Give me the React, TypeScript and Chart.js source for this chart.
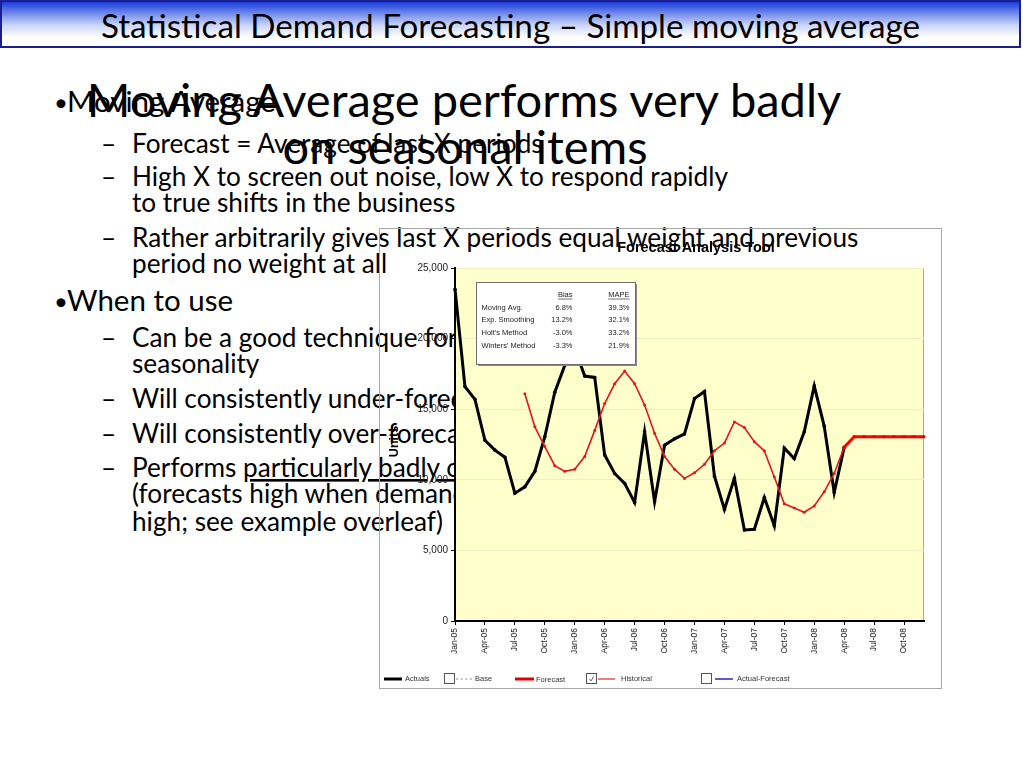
import React, { useEffect, useRef } from "react";
import { Chart, registerables } from "chart.js";

Chart.register(...registerables);

// ---------- data ----------
const yearSuffixes = ["05", "06", "07", "08"];
const monthNames = ["Jan", "Feb", "Mar", "Apr", "May", "Jun", "Jul", "Aug", "Sep", "Oct", "Nov", "Dec"];
const monthLabels = yearSuffixes.flatMap((y) => monthNames.map((m) => `${m}-${y}`));

// Actuals Jan-05 .. Apr-08
const actualsValues = [
  23500, 16600, 15700, 12800, 12100, 11600, 9050, 9500, 10600, 13050, 16200, 18100,
  19300, 17350, 17250, 11750, 10450, 9750, 8400, 13400, 8450, 12450, 12900, 13250,
  15750, 16250, 10250, 7900, 10100, 6450, 6500, 8750, 6750, 12250, 11500, 13400,
  16650, 13800, 9100, 12300,
];
// Historical moving-average forecast Aug-05 .. Apr-08
const historicalStart = 7;
const historicalValues = [
  16100, 13750, 12350, 11000, 10600,
  10750, 11650, 13500, 15400, 16800, 17700, 16800, 15300, 13300, 11650, 10750, 10100,
  10500, 11100, 12050, 12600, 14100, 13700, 12700, 12050, 10200, 8300, 8000, 7700,
  8150, 9150, 10450, 12300,
];
// Future forecast Apr-08 .. Dec-08
const forecastStart = 39;
const forecastValues = [12300, 13050, 13050, 13050, 13050, 13050, 13050, 13050, 13050];

const yTickStep = 5000;
const yMax = 25000;

const methodNames = ["Moving Avg.", "Exp. Smoothing", "Holt's Method", "Winters' Method"];
const biasPct = [6.8, 13.2, -3.0, -3.3];
const mapePct = [39.3, 32.1, 33.2, 21.9];
const tableHeaders = ["Bias", "MAPE"];

const legendLabels = ["Actuals", "Base", "Forecast", "Historical", "Actual-Forecast"];
const chartTitle = "Forecast Analysis Tool";
const yAxisTitle = "Units";

const slideTitle = "Statistical Demand Forecasting – Simple moving average";
const overlayTitle = ["Moving Average performs very badly", "on seasonal items"];

type Line = { kind: "bullet" | "dash" | "cont"; text: string; y: number; u?: [string, string] };
const bodyLines: Line[] = [
  { kind: "bullet", text: "Moving Average", y: 112 },
  { kind: "dash", text: "Forecast = Average of last X periods", y: 153 },
  { kind: "dash", text: "High X to screen out noise, low X to respond rapidly", y: 186 },
  { kind: "cont", text: "to true shifts in the business", y: 212 },
  { kind: "dash", text: "Rather arbitrarily gives last X periods equal weight and previous", y: 247 },
  { kind: "cont", text: "period no weight at all", y: 273 },
  { kind: "bullet", text: "When to use", y: 311 },
  { kind: "dash", text: "Can be a good technique for items with no trend or", y: 347 },
  { kind: "cont", text: "seasonality", y: 373 },
  { kind: "dash", text: "Will consistently under-forecast an upward trend", y: 408 },
  { kind: "dash", text: "Will consistently over-forecast a downward trend", y: 443 },
  { kind: "dash", text: "", u: ["Performs ", "particularly badly on seasonal items"], y: 477 },
  { kind: "cont", text: "(forecasts high when demand is low, and low when demand is", y: 503 },
  { kind: "cont", text: "high; see example overleaf)", y: 531 },
];

const padTo = (start: number, vals: number[], total: number) => {
  const out: (number | null)[] = [];
  for (let i = 0; i < total; i++) {
    const k = i - start;
    out.push(k >= 0 && k < vals.length ? vals[k] : null);
  }
  return out;
};

const CHART_FONT = "'Liberation Sans', Arial, sans-serif";

function ForecastChart() {
  const ref = useRef<HTMLCanvasElement | null>(null);
  useEffect(() => {
    if (!ref.current) return;
    const n = monthLabels.length;

    const decorPlugin = {
      id: "decor",
      beforeDraw(chart: any) {
        const { ctx, chartArea: ca } = chart;
        ctx.save();
        ctx.fillStyle = "#ffffcc";
        ctx.fillRect(ca.left, ca.top, ca.right - ca.left, ca.bottom - ca.top);
        ctx.strokeStyle = "#a8a8a8";
        ctx.lineWidth = 1;
        ctx.strokeRect(ca.left + 0.5, ca.top + 0.5, ca.right - ca.left - 1, ca.bottom - ca.top);
        ctx.restore();
      },
      afterDatasetsDraw(chart: any) {
        const { ctx, chartArea: ca } = chart;
        const bx = Math.round(ca.left + 21) + 0.5;
        const by = Math.round(ca.top + 14) + 0.5;
        const bw = 159;
        const bh = 82;
        ctx.save();
        ctx.fillStyle = "#8a8a8a";
        ctx.fillRect(bx + 1.5, by + 1.5, bw, bh);
        ctx.fillStyle = "#ffffff";
        ctx.fillRect(bx, by, bw, bh);
        ctx.strokeStyle = "#6e6e6e";
        ctx.lineWidth = 1;
        ctx.strokeRect(bx, by, bw, bh);
        ctx.font = `7.5px ${CHART_FONT}`;
        ctx.fillStyle = "#222";
        ctx.textBaseline = "middle";
        const colRight = [bx + 96, bx + 153];
        tableHeaders.forEach((h, i) => {
          ctx.textAlign = "right";
          ctx.fillText(h, colRight[i], by + 12);
          const w = ctx.measureText(h).width;
          ctx.beginPath();
          ctx.strokeStyle = "#333";
          ctx.lineWidth = 0.7;
          ctx.moveTo(colRight[i] - w, by + 16.5);
          ctx.lineTo(colRight[i], by + 16.5);
          ctx.stroke();
        });
        methodNames.forEach((m, i) => {
          const y = by + 25 + i * 12.7;
          ctx.textAlign = "left";
          ctx.fillText(m, bx + 5, y);
          ctx.textAlign = "right";
          ctx.fillText(biasPct[i].toFixed(1) + "%", colRight[0], y);
          ctx.fillText(mapePct[i].toFixed(1) + "%", colRight[1], y);
        });
        ctx.restore();
      },
      afterDraw(chart: any) {
        const { ctx, chartArea: ca, width, height } = chart;
        ctx.save();
        ctx.strokeStyle = "#a6a6a6";
        ctx.lineWidth = 1;
        ctx.strokeRect(0.5, 0.5, width - 1, height - 1);
        ctx.fillStyle = "#000";
        ctx.font = `bold 14.5px ${CHART_FONT}`;
        ctx.textAlign = "center";
        ctx.textBaseline = "middle";
        ctx.fillText(chartTitle, 317, 20);
        ctx.save();
        ctx.translate(16, (ca.top + ca.bottom) / 2 - 3);
        ctx.rotate(-Math.PI / 2);
        ctx.font = `bold 12.5px ${CHART_FONT}`;
        ctx.fillText(yAxisTitle, 0, 0);
        ctx.restore();
        const ly = 451;
        ctx.font = `7.5px ${CHART_FONT}`;
        ctx.textAlign = "left";
        ctx.textBaseline = "middle";
        const seg = (x1: number, x2: number, color: string, w: number, dash: number[] = []) => {
          ctx.beginPath();
          ctx.setLineDash(dash);
          ctx.strokeStyle = color;
          ctx.lineWidth = w;
          ctx.moveTo(x1, ly);
          ctx.lineTo(x2, ly);
          ctx.stroke();
          ctx.setLineDash([]);
        };
        const box = (x: number, checked: boolean) => {
          ctx.fillStyle = "#fff";
          ctx.fillRect(x + 0.5, ly - 5.5, 10, 10);
          ctx.strokeStyle = "#555";
          ctx.lineWidth = 1;
          ctx.strokeRect(x + 0.5, ly - 5.5, 10, 10);
          if (checked) {
            ctx.beginPath();
            ctx.lineWidth = 0.9;
            ctx.moveTo(x + 3.5, ly);
            ctx.lineTo(x + 5, ly + 2);
            ctx.lineTo(x + 7.5, ly - 2.5);
            ctx.stroke();
          }
        };
        seg(5, 23, "#000", 3);
        ctx.fillStyle = "#333";
        ctx.fillText(legendLabels[0], 26, ly);
        box(65, false);
        seg(77, 93, "#9a9a9a", 1.2, [2.5, 2]);
        ctx.fillStyle = "#333";
        ctx.fillText(legendLabels[1], 96, ly);
        seg(136, 155, "#e00000", 3);
        ctx.fillStyle = "#333";
        ctx.fillText(legendLabels[2], 157, ly + 1);
        box(207, true);
        seg(219, 236, "#e07272", 1.8);
        ctx.fillStyle = "#333";
        ctx.fillText(legendLabels[3], 242, ly);
        box(322, false);
        seg(336, 354, "#4b4bc8", 1.8);
        ctx.fillStyle = "#333";
        ctx.fillText(legendLabels[4], 358, ly);
        ctx.restore();
      },
    };

    const chart = new Chart(ref.current, {
      type: "line",
      data: {
        labels: monthLabels,
        datasets: [
          {
            label: legendLabels[0],
            data: padTo(0, actualsValues, n),
            borderColor: "#000",
            backgroundColor: "#000",
            borderWidth: 3,
            pointRadius: 1.8,
            pointBorderWidth: 0,
            pointBackgroundColor: "#000",
            tension: 0,
            order: 3,
          },
          {
            label: legendLabels[3],
            data: padTo(historicalStart, historicalValues, n),
            borderColor: "#e8141c",
            backgroundColor: "#e8141c",
            borderWidth: 1.6,
            pointRadius: 1.5,
            pointBorderWidth: 0,
            pointBackgroundColor: "#e8141c",
            tension: 0,
            order: 2,
          },
          {
            label: legendLabels[2],
            data: padTo(forecastStart, forecastValues, n),
            borderColor: "#ff0000",
            backgroundColor: "#ff0000",
            borderWidth: 3,
            pointRadius: 2,
            pointStyle: "rect",
            pointBorderWidth: 0,
            pointBackgroundColor: "#ee0000",
            tension: 0,
            order: 1,
          },
        ],
      },
      options: {
        animation: false,
        responsive: false,
        devicePixelRatio: 1,
        layout: { padding: { top: 40, right: 18, bottom: 0, left: 0 } },
        plugins: { legend: { display: false }, tooltip: { enabled: false }, title: { display: false } },
        scales: {
          x: {
            type: "category",
            offset: false,
            grid: {
              drawOnChartArea: false,
              drawTicks: true,
              tickLength: 4,
              tickColor: (c: any) => (c.index % 3 === 0 ? "#000" : "rgba(0,0,0,0)"),
            },
            border: { color: "#000", width: 2 },
            ticks: {
              autoSkip: false,
              minRotation: 90,
              maxRotation: 90,
              padding: 3,
              color: "#222",
              font: { family: CHART_FONT, size: 8.5 },
              callback: (_v: any, i: number) => (i % 3 === 0 ? monthLabels[i] : ""),
            },
            afterFit: (s: any) => {
              s.height = 68;
            },
          },
          y: {
            min: 0,
            max: yMax,
            grid: {
              color: "#eeeec4",
              lineWidth: 1,
              drawTicks: true,
              tickLength: 4,
              tickColor: "#000",
            },
            border: { color: "#000", width: 2 },
            ticks: {
              stepSize: yTickStep,
              padding: 3,
              color: "#222",
              font: { family: CHART_FONT, size: 10 },
              callback: (v: any) => Number(v).toLocaleString("en-US"),
            },
            afterFit: (s: any) => {
              s.width = 76;
            },
          },
        },
      },
      plugins: [decorPlugin],
    } as any);
    return () => chart.destroy();
  }, []);
  return (
    <canvas
      ref={ref}
      width={563}
      height={461}
      style={{ position: "absolute", left: 379, top: 228, width: 563, height: 461 }}
    />
  );
}

export default function App() {
  const font = "Lato, 'Open Sans', sans-serif";
  const subSize = 26.2;
  const topSize = 29.5;
  return (
    <div style={{ position: "absolute", left: 0, top: 0, width: 1023, height: 767, background: "#fff", overflow: "hidden" }}>
      <div
        style={{
          position: "absolute",
          left: 0,
          top: 0,
          width: 1017,
          height: 42,
          border: "2px solid #1a1f8f",
          background: "linear-gradient(to bottom, #1b3bd9 0%, #6d87ea 25%, #c9d3f8 52%, #ffffff 80%)",
          display: "flex",
          alignItems: "center",
          justifyContent: "center",
          fontFamily: font,
          fontSize: 33.2,
          paddingTop: 2,
          boxSizing: "content-box",
          color: "#000",
          whiteSpace: "nowrap",
        }}
      >
        {slideTitle}
      </div>
      <svg width={1023} height={767} style={{ position: "absolute", left: 0, top: 0 }}>
        <g fontFamily={font} fill="#000">
          {bodyLines.map((l, i) => (
            <g key={i}>
              {l.kind === "bullet" && (
                <text x={54} y={l.y - 1} fontSize={24}>
                  •
                </text>
              )}
              {l.kind === "dash" && (
                <text x={101} y={l.y} fontSize={subSize}>
                  –
                </text>
              )}
              <text
                x={l.kind === "bullet" ? 67 : 132}
                y={l.y}
                fontSize={l.kind === "bullet" ? topSize : subSize}
                style={{ whiteSpace: "pre" }}
              >
                {l.u ? (
                  <>
                    <tspan>{l.u[0]}</tspan>
                    <tspan textDecoration="underline" style={{ textDecoration: "underline" }}>
                      {l.u[1]}
                    </tspan>
                  </>
                ) : (
                  l.text
                )}
              </text>
            </g>
          ))}
          <text x={464} y={117} fontSize={47} textAnchor="middle">
            {overlayTitle[0]}
          </text>
          <text x={465} y={164} fontSize={47} textAnchor="middle">
            {overlayTitle[1]}
          </text>
        </g>
      </svg>
      <ForecastChart />
    </div>
  );
}
